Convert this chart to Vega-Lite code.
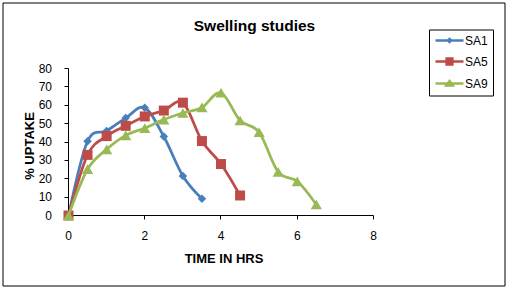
{
  "$schema": "https://vega.github.io/schema/vega-lite/v6.json",
  "width": 502,
  "height": 283,
  "autosize": {"type": "none"},
  "padding": {"left": 2.5, "top": 2.5, "right": 2.5, "bottom": 3.5},
  "background": "white",
  "title": {
    "text": "Swelling studies",
    "anchor": "middle",
    "frame": "group",
    "baseline": "alphabetic",
    "offset": -44,
    "dx": 1,
    "font": "Liberation Sans",
    "fontSize": 15.5,
    "fontWeight": "bold",
    "color": "black"
  },
  "config": {
    "font": "Liberation Sans",
    "view": {"stroke": "black", "strokeWidth": 1},
    "axis": {
      "grid": false,
      "domain": false,
      "translate": 0,
      "tickColor": "black",
      "tickSize": 4,
      "tickWidth": 1,
      "labelColor": "black",
      "labelFont": "Liberation Sans",
      "labelFontSize": 12,
      "labelFlush": false,
      "labelOverlap": false,
      "titleColor": "black",
      "titleFont": "Liberation Sans",
      "titleFontSize": 13,
      "titleFontWeight": "bold"
    },
    "legend": {
      "orient": "none",
      "legendX": 426.5,
      "legendY": 27,
      "padding": 5,
      "rowPadding": 6,
      "strokeColor": "black",
      "fillColor": "white",
      "labelFont": "Liberation Sans",
      "labelFontSize": 12,
      "labelColor": "black",
      "labelOffset": 19,
      "symbolSize": 64,
      "symbolStrokeWidth": 2.5
    }
  },
  "datasets": {
    "uptake": [
      {"series": "SA1", "time": 0, "uptake": 0},
      {"series": "SA1", "time": 0.5, "uptake": 40.4},
      {"series": "SA1", "time": 1, "uptake": 46},
      {"series": "SA1", "time": 1.5, "uptake": 53},
      {"series": "SA1", "time": 2, "uptake": 58.7},
      {"series": "SA1", "time": 2.5, "uptake": 43},
      {"series": "SA1", "time": 3, "uptake": 21.5},
      {"series": "SA1", "time": 3.5, "uptake": 9.1},
      {"series": "SA5", "time": 0, "uptake": 0},
      {"series": "SA5", "time": 0.5, "uptake": 33},
      {"series": "SA5", "time": 1, "uptake": 43.2},
      {"series": "SA5", "time": 1.5, "uptake": 48.8},
      {"series": "SA5", "time": 2, "uptake": 53.9},
      {"series": "SA5", "time": 2.5, "uptake": 57.1},
      {"series": "SA5", "time": 3, "uptake": 61.4},
      {"series": "SA5", "time": 3.5, "uptake": 40.5},
      {"series": "SA5", "time": 4, "uptake": 28},
      {"series": "SA5", "time": 4.5, "uptake": 10.9},
      {"series": "SA9", "time": 0, "uptake": 0},
      {"series": "SA9", "time": 0.5, "uptake": 25.2},
      {"series": "SA9", "time": 1, "uptake": 36},
      {"series": "SA9", "time": 1.5, "uptake": 43.6},
      {"series": "SA9", "time": 2, "uptake": 47.6},
      {"series": "SA9", "time": 2.5, "uptake": 52.2},
      {"series": "SA9", "time": 3, "uptake": 55.8},
      {"series": "SA9", "time": 3.5, "uptake": 58.8},
      {"series": "SA9", "time": 4, "uptake": 66.8},
      {"series": "SA9", "time": 4.5, "uptake": 51.7},
      {"series": "SA9", "time": 5, "uptake": 45.3},
      {"series": "SA9", "time": 5.5, "uptake": 23.7},
      {"series": "SA9", "time": 6, "uptake": 18.6},
      {"series": "SA9", "time": 6.5, "uptake": 6}
    ]
  },
  "data": {"name": "uptake"},
  "layer": [
    {
      "transform": [{"filter": "datum.series === 'SA1'"}],
      "mark": {"type": "line", "interpolate": "cardinal", "strokeWidth": 2.75, "color": "#4A7EBB"},
      "encoding": {
        "x": {
          "field": "time",
          "type": "quantitative",
          "title": "TIME IN HRS",
          "scale": {"domain": [-1.73115, 11.43607], "nice": false, "zero": false},
          "axis": {
            "orient": "bottom",
            "offset": -70,
            "values": [0, 2, 4, 6, 8],
            "tickCount": 20,
            "format": "d",
            "labelOverlap": false,
            "labelPadding": 11,
            "titleX": 221.5,
            "titleY": 47,
            "titleAlign": "center",
            "titleBaseline": "alphabetic",
            "titleAnchor": null
          }
        },
        "y": {
          "field": "uptake",
          "type": "quantitative",
          "title": "% UPTAKE",
          "scale": {"domain": [-38.0952, 115.9184], "nice": false, "zero": false},
          "axis": {
            "orient": "left",
            "offset": -66,
            "values": [0, 10, 20, 30, 40, 50, 60, 70, 80],
            "tickCount": 20,
            "format": "d",
            "labelOverlap": false,
            "labelBound": false,
            "labelPadding": 12.5,
            "titleX": -38.5,
            "titleY": 143.5,
            "titleAngle": -90,
            "titleAlign": "center",
            "titleBaseline": "middle",
            "titleAnchor": null
          }
        }
      }
    },
    {
      "data": {"values": [{}]},
      "mark": {"type": "rule", "color": "black", "strokeWidth": 1},
      "encoding": {
        "x": {"datum": 0, "type": "quantitative"},
        "x2": {"datum": 8},
        "y": {"datum": 0, "type": "quantitative"}
      }
    },
    {
      "data": {"values": [{}]},
      "mark": {"type": "rule", "color": "black", "strokeWidth": 1},
      "encoding": {
        "x": {"datum": 0, "type": "quantitative"},
        "y": {"datum": 0, "type": "quantitative"},
        "y2": {"datum": 80}
      }
    },
    {
      "transform": [{"filter": "datum.series === 'SA1'"}],
      "mark": {"type": "point", "filled": true, "opacity": 1, "shape": "diamond", "size": 72, "color": "#4A7EBB"},
      "encoding": {
        "x": {"field": "time", "type": "quantitative"},
        "y": {"field": "uptake", "type": "quantitative"}
      }
    },
    {
      "transform": [{"filter": "datum.series === 'SA5'"}],
      "mark": {"type": "line", "interpolate": "cardinal", "strokeWidth": 2.75, "color": "#BE4B48"},
      "encoding": {
        "x": {"field": "time", "type": "quantitative"},
        "y": {"field": "uptake", "type": "quantitative"}
      }
    },
    {
      "transform": [{"filter": "datum.series === 'SA5'"}],
      "mark": {"type": "point", "filled": true, "opacity": 1, "shape": "square", "size": 100, "color": "#BE4B48"},
      "encoding": {
        "x": {"field": "time", "type": "quantitative"},
        "y": {"field": "uptake", "type": "quantitative"}
      }
    },
    {
      "transform": [{"filter": "datum.series === 'SA9'"}],
      "mark": {"type": "line", "interpolate": "cardinal", "strokeWidth": 2.75, "color": "#98B954"},
      "encoding": {
        "x": {"field": "time", "type": "quantitative"},
        "y": {"field": "uptake", "type": "quantitative"}
      }
    },
    {
      "transform": [{"filter": "datum.series === 'SA9'"}],
      "mark": {"type": "point", "filled": true, "opacity": 1, "shape": "triangle-up", "size": 125, "color": "#98B954"},
      "encoding": {
        "x": {"field": "time", "type": "quantitative"},
        "y": {"field": "uptake", "type": "quantitative"}
      }
    },
    {
      "mark": {"type": "point", "filled": true, "opacity": 1, "clip": true, "size": 64, "strokeWidth": 2.5},
      "encoding": {
        "x": {"datum": -100, "type": "quantitative"},
        "y": {"datum": -100, "type": "quantitative"},
        "shape": {
          "field": "series",
          "type": "nominal",
          "title": null,
          "legend": {"labelExpr": "datum.label + '  '"},
          "scale": {
            "domain": ["SA1", "SA5", "SA9"],
            "range": [
              "M-1.125,0L5.875,0M2.375,-0.4L2.775,0L2.375,0.4L1.975,0Z",
              "M-1.125,0L5.875,0M1.65,-0.725L3.1,-0.725L3.1,0.725L1.65,0.725Z",
              "M-1.125,0L5.875,0M2.375,-0.6L3.19,0.5L1.56,0.5Z"
            ]
          }
        },
        "fill": {
          "field": "series",
          "type": "nominal",
          "title": null,
          "legend": {"labelExpr": "datum.label + '  '"},
          "scale": {"domain": ["SA1", "SA5", "SA9"], "range": ["#4A7EBB", "#BE4B48", "#98B954"]}
        },
        "stroke": {
          "field": "series",
          "type": "nominal",
          "title": null,
          "legend": {"labelExpr": "datum.label + '  '"},
          "scale": {"domain": ["SA1", "SA5", "SA9"], "range": ["#4A7EBB", "#BE4B48", "#98B954"]}
        }
      }
    }
  ]
}
